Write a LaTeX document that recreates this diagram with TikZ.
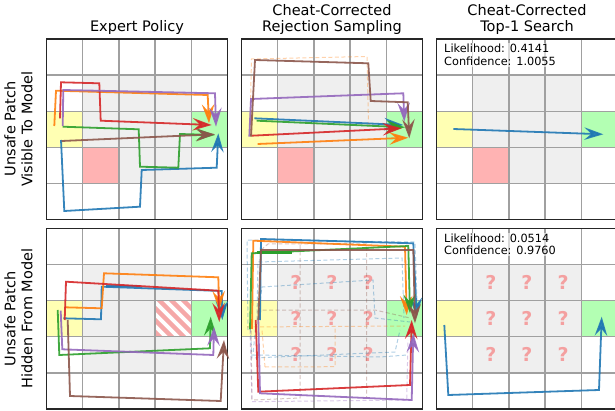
\documentclass[tikz,border=0pt]{standalone}
\usepackage{fontspec}
\setmainfont{DejaVu Sans}
\usetikzlibrary{arrows.meta}

\definecolor{tabblue}{HTML}{1F77B4}
\definecolor{taborange}{HTML}{FF7F0E}
\definecolor{tabgreen}{HTML}{2CA02C}
\definecolor{tabred}{HTML}{D62728}
\definecolor{tabpurple}{HTML}{9467BD}
\definecolor{tabbrown}{HTML}{8C564B}
\definecolor{cellgray}{HTML}{EFEFEF}
\definecolor{cellyellow}{HTML}{FFFFB3}
\definecolor{cellgreen}{HTML}{B3FFB3}
\definecolor{cellred}{HTML}{FFB3B3}
\definecolor{hatchred}{HTML}{F5A8A8}
\definecolor{qmark}{HTML}{F4A0A0}
\definecolor{gridgray}{HTML}{A0A0A0}

\tikzset{
  gridline/.style={draw=gridgray, line width=1.2pt},
  frameline/.style={draw=black!85, line width=1.3pt},
  traj/.style={line width=1.8pt, opacity=0.9, line join=miter,
    -{Stealth[length=19pt,width=12.5pt,inset=7pt]}},
  ghost/.style={line width=1pt, opacity=0.35, dash pattern=on 4pt off 2.5pt},
  coltitle/.style={font=\fontsize{14.5}{16.5}\selectfont, align=center, anchor=base},
  rowtitle/.style={font=\fontsize{14.5}{17}\selectfont, align=center, rotate=90},
  scoretext/.style={font=\fontsize{11.3}{12.7}\selectfont, align=left, anchor=north west,
    fill=white, fill opacity=0.6, text opacity=1, inner sep=1pt},
  qtext/.style={font=\fontsize{19}{19}\selectfont\bfseries, text=qmark},
}

% background cells of one 5x5 grid, origin at its top-left corner
\newcommand{\gridcells}[2]{%
  \begin{scope}[shift={(#1,#2)}]
    \fill[cellgray] (36.1,36.1) rectangle (144.4,144.4);
    \fill[cellyellow] (0,72.2) rectangle (36.1,108.3);
    \fill[cellgreen] (144.4,72.2) rectangle (180.5,108.3);
  \end{scope}}
% grid lines and frame of one 5x5 grid
\newcommand{\gridlines}[2]{%
  \begin{scope}[shift={(#1,#2)}]
    \foreach \k in {1,...,4} {
      \draw[gridline] (\k*36.1,0) -- (\k*36.1,180.5);
      \draw[gridline] (0,\k*36.1) -- (180.5,\k*36.1);
    }
    \draw[frameline] (0,0) rectangle (180.5,180.5);
  \end{scope}}
% question marks over the hidden 3x3 block
\newcommand{\hiddenmarks}[2]{%
  \begin{scope}[shift={(#1,#2)}]
    \foreach \c in {1,2,3} \foreach \r in {1,2,3}
      \node[qtext] (q\c\r) at (\c*36.1+18.05,\r*36.1+18.05) {?};
  \end{scope}}

\begin{document}
\begin{tikzpicture}[x=1pt,y=-1pt]
\useasboundingbox (0,0) rectangle (615,411);
\clip (0,0) rectangle (615,411);

% ---------- cell fills ----------
\gridcells{46.7}{39}
\gridcells{241.7}{39}
\gridcells{436.7}{39}
\gridcells{46.7}{228.5}
\gridcells{241.7}{228.5}
\gridcells{436.7}{228.5}

% unsafe patch (visible row)
\fill[cellred] (82.8,147.3) rectangle (118.9,183.4);
\fill[cellred] (277.8,147.3) rectangle (313.9,183.4);
\fill[cellred] (472.8,147.3) rectangle (508.9,183.4);

% unsafe patch drawn hatched (hidden row, expert panel)
\begin{scope}
  \clip (155,300.7) rectangle (191.1,336.8);
  \fill[white] (155,300.7) rectangle (191.1,336.8);
  \foreach \k in {-4,...,4}
    \draw[hatchred, line width=4.3pt] (155+\k*12,296) -- ++(46,46);
\end{scope}

\hiddenmarks{241.7}{228.5}
\hiddenmarks{436.7}{228.5}

% ---------- grids ----------
\gridlines{46.7}{39}
\gridlines{241.7}{39}
\gridlines{436.7}{39}
\gridlines{46.7}{228.5}
\gridlines{241.7}{228.5}
\gridlines{436.7}{228.5}

% ---------- titles ----------
\node[coltitle] (t1) at (137,32) {Expert Policy};
\node[coltitle] (t2) at (332,32) {Cheat-Corrected\\Rejection Sampling};
\node[coltitle] (t3) at (527,32) {Cheat-Corrected\\Top-1 Search};
\node[rowtitle] (r1) at (18.5,129) {Unsafe Patch\\Visible To Model};
\node[rowtitle] (r2) at (18.5,318.7) {Unsafe Patch\\Hidden From Model};

% ---------- expert policy, visible ----------
\draw[traj, tabblue] (61,140) -- (64.3,211) -- (140,206.7) -- (141.7,170) -- (216.7,167.7) -- (218.3,133.3);
\draw[traj, taborange] (54.3,126) -- (56,90.7) -- (207.7,95) -- (209,123.3);
\draw[traj, tabgreen] (62.7,126.7) -- (138.7,129.3) -- (140,166.7) -- (178.3,167.7) -- (180,134) -- (215,135);
\draw[traj, tabred] (60,118.3) -- (61,82.3) -- (99.3,83.3) -- (100.7,120.7) -- (211.7,125);
\draw[traj, tabpurple] (62.7,126) -- (63.3,90) -- (215,93.3) -- (216,126.7);
\draw[traj, tabbrown] (61.7,141) -- (215,134.3);

% ---------- rejection sampling, visible ----------
\draw[ghost, taborange] (250,125) -- (251.5,59) -- (367,56.5) -- (368.5,124) -- (372,126);
\draw[traj, tabblue] (254.3,118.3) -- (403.3,125);
\draw[traj, taborange] (257.7,144) -- (408.3,137.7);
\draw[traj, tabgreen] (256.7,120.7) -- (405,127.3);
\draw[traj, tabred] (251.7,135.7) -- (401.7,128.3);
\draw[traj, tabpurple] (249.3,136.7) -- (251,99) -- (403.3,93.3) -- (404.3,121.7);
\draw[traj, tabbrown] (251,136.7) -- (255,60) -- (368.3,63.3) -- (370.7,101) -- (407.7,102.3) -- (409.3,138.3);

% ---------- top-1 search, visible ----------
\node[scoretext] (s1) at (443,43) {Likelihood: 0.4141\\Confidence: 1.0055};
\draw[traj, tabblue] (453.3,129) -- (603.3,134.3);

% ---------- expert policy, hidden ----------
\draw[traj, tabblue] (63.3,318.3) -- (101,319.3) -- (101.7,286.7) -- (221.7,291) -- (222.3,320);
\draw[line width=1.8pt, tabblue, opacity=0.9] (106,285.8) -- (140,285.8);
\draw[traj, taborange] (65,307.3) -- (101.7,308.3) -- (104,273.3) -- (218.3,277.3) -- (219.3,310);
\draw[traj, tabgreen] (57.7,310) -- (59.3,355) -- (210,348.3) -- (210.7,316.7);
\draw[traj, tabred] (64.7,320) -- (66,281.7) -- (218.3,290.7) -- (219.3,322);
\draw[traj, tabpurple] (60.7,310.7) -- (62.3,349.3) -- (213.3,355) -- (214,326.7);
\draw[traj, tabbrown] (67.7,320) -- (70,396) -- (220.7,401) -- (224,340);

% ---------- rejection sampling, hidden ----------
\draw[ghost, tabblue] (258,320) -- (262,287) -- (373,280) -- (375,318) -- (410,322);
\draw[ghost, tabblue] (256,322) -- (253,355) -- (380,357) -- (407,355);
\draw[ghost, tabblue] (248,330) -- (247,240) -- (415,242) -- (417,300);
\draw[ghost, tabblue] (250,322) -- (252,358) -- (395,352) -- (400,330);
\draw[ghost, tabblue] (257,320) -- (258,262) -- (402,258) -- (404,318);
\draw[ghost, tabbrown] (258,312) -- (258,310) -- (375,310) -- (410,318);
\draw[ghost, tabbrown] (300,245) -- (300,398) -- (252,400) -- (251,330);
\draw[ghost, tabbrown] (261,250) -- (268,244) -- (366.7,244) -- (366.7,397);
\draw[ghost, taborange] (247,327) -- (405,326) ;
\draw[ghost, taborange] (265,367) -- (335,366.7) -- (335,327);
\draw[ghost, taborange] (265,367) -- (262,330);
\draw[ghost, tabpurple] (252,401.7) -- (406.7,400) -- (408,340);
\draw[ghost, tabpurple] (250,330) -- (252,401);
\draw[traj, tabblue] (260,320) -- (261,239) -- (413.3,243.3) -- (416.7,316.7);
\draw[traj, taborange] (252,329) -- (253.3,240.7) -- (405,246.7) -- (406.7,315);
\draw[traj, tabgreen] (250,329.3) -- (251.7,253.3) -- (408.3,246) -- (410,313.3);
\draw[line width=3pt, tabgreen] (256.7,252.3) -- (291.7,252.3);
\draw[traj, tabred] (255.7,320) -- (258.3,391.7) -- (410,385) -- (411.7,320);
\draw[traj, tabpurple] (258.3,320) -- (260,393.3) -- (411.7,400) -- (413.3,333.3);
\draw[traj, tabbrown] (258.3,320) -- (261,250) -- (413.3,250) -- (415,323.3);

% ---------- top-1 search, hidden ----------
\node[scoretext] (s2) at (443,232.5) {Likelihood: 0.0514\\Confidence: 0.9760};
\draw[traj, tabblue] (444.3,325) -- (448.3,395) -- (599,390) -- (601.7,316.7);

\end{tikzpicture}
\end{document}
